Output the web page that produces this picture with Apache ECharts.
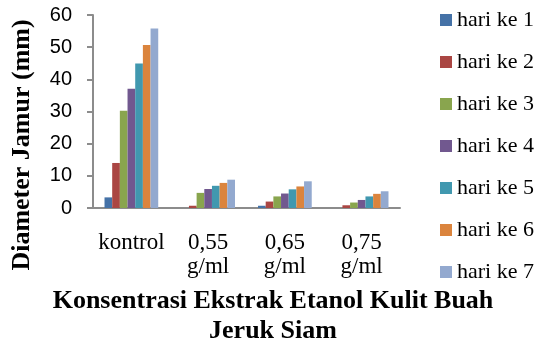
<!DOCTYPE html>
<html><head><meta charset="utf-8">
<script src="https://cdn.jsdelivr.net/npm/echarts@6/dist/echarts.min.js"></script>
<style>html,body{margin:0;padding:0;background:#fff}#c{width:552px;height:345px}</style>
</head><body><div id="c"></div>
<script>
const categories = ['kontrol', '0,55\ng/ml', '0,65\ng/ml', '0,75\ng/ml'];
const seriesNames = ['hari ke 1','hari ke 2','hari ke 3','hari ke 4','hari ke 5','hari ke 6','hari ke 7'];
const hari1 = [3.3, 0, 0.7, 0];
const hari2 = [14, 0.7, 2, 0.85];
const hari3 = [30.2, 4.7, 3.6, 1.7];
const hari4 = [37.1, 5.9, 4.5, 2.5];
const hari5 = [44.9, 6.9, 5.8, 3.6];
const hari6 = [50.7, 7.8, 6.7, 4.4];
const hari7 = [55.8, 8.8, 8.3, 5.2];
const yTicks = [0, 10, 20, 30, 40, 50, 60];
const colors = ['#4572A7','#AA4643','#89A54E','#71588F','#4198AF','#DB843D','#93A9CF'];
const allData = [hari1, hari2, hari3, hari4, hari5, hari6, hari7];
const serif = '"Liberation Serif","Times New Roman",serif';

const chart = echarts.init(document.getElementById('c'), null, {renderer:'canvas'});
chart.setOption({
  animation: false,
  color: colors,
  title: {
    text: 'Konsentrasi Ekstrak Etanol Kulit Buah\nJeruk Siam',
    left: 273, top: 286, textAlign: 'center', padding: 0,
    textStyle: {fontFamily: serif, fontWeight: 'bold', fontSize: 26, lineHeight: 30, color: '#000'}
  },
  graphic: [{
    type: 'text', x: 22, y: 145, rotation: Math.PI/2,
    style: {text: 'Diameter Jamur (mm)', align: 'center', verticalAlign: 'middle',
      font: 'bold 26px ' + serif, fill: '#000'}
  }],
  legend: {
    orient: 'vertical', left: 440, top: 9, padding: 0,
    itemWidth: 12, itemHeight: 12, itemGap: 20,
    icon: 'rect',
    textStyle: {fontFamily: serif, fontSize: 22, color: '#000'},
    data: seriesNames
  },
  grid: {left: 93, right: 152, top: 15, bottom: 137, containLabel: false},
  xAxis: {
    type: 'category', data: categories,
    axisLine: {lineStyle: {color: '#8c8c8c', width: 2}},
    axisTick: {show: false},
    axisLabel: {interval: 0, margin: 23, fontFamily: serif, fontSize: 23, lineHeight: 24, color: '#000'}
  },
  yAxis: {
    type: 'value', min: yTicks[0], max: yTicks[yTicks.length-1], interval: 10,
    axisLine: {show: true, lineStyle: {color: '#8c8c8c', width: 2}},
    axisTick: {show: true, length: 6, lineStyle: {color: '#8c8c8c', width: 2}},
    splitLine: {show: false},
    axisLabel: {margin: 21, fontFamily: '"Liberation Sans",Arial,sans-serif', fontSize: 20, color: '#000'}
  },
  series: seriesNames.map((n, i) => ({
    name: n, type: 'bar', data: allData[i],
    barGap: '0%', barCategoryGap: '30%',
    itemStyle: {color: colors[i]}
  }))
});
</script></body></html>
